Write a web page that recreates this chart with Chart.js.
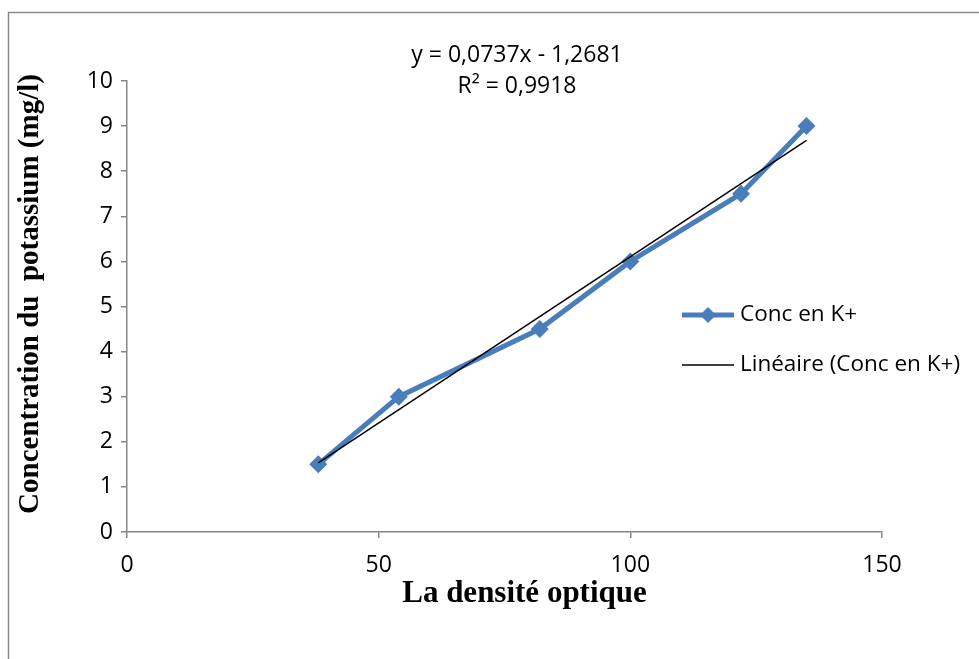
<!DOCTYPE html>
<html>
<head>
<meta charset="utf-8">
<script src="https://cdn.jsdelivr.net/npm/chart.js@4.4.0/dist/chart.umd.min.js"></script>
<style>
  html, body { margin: 0; padding: 0; background: #ffffff; }
  #wrap { width: 979px; height: 659px; position: relative; }
</style>
</head>
<body>
<div id="wrap"><canvas id="c" width="979" height="659"></canvas></div>
<script>
// Optical density readings and potassium concentrations
const densiteOptique = [38, 54, 82, 100, 122, 135];
const concK = [1.5, 3, 4.5, 6, 7.5, 9];

// Linear fit reported on the chart
const penteFit = 0.0737;
const ordonneeFit = -1.2681;
const r2Fit = 0.9918;

const xTicks = [0, 50, 100, 150];
const yTicks = [0, 1, 2, 3, 4, 5, 6, 7, 8, 9, 10];

const serieLabel = 'Conc en K+';
const trendLabel = 'Linéaire (Conc en K+)';
const xTitle = 'La densité optique';
const yTitle = 'Concentration du  potassium (mg/l)';

const BLUE = '#4a7ebb';
const AXIS = '#868686';
const TXT = '#000000';
const SANS = '"Open Sans", Lato, sans-serif';
const SERIF = '"Liberation Serif", "DejaVu Serif", serif';

const points = densiteOptique.map((x, i) => ({ x: x, y: concK[i] }));
const xMin = Math.min(...densiteOptique), xMax = Math.max(...densiteOptique);
const trendPoints = [xMin, xMax].map(x => ({ x: x, y: penteFit * x + ordonneeFit }));

const fmt = v => v.toFixed(4).replace('.', ',');
const eqLine1 = 'y = ' + fmt(penteFit) + 'x - ' + fmt(Math.abs(ordonneeFit));
const eqLine2 = 'R² = ' + fmt(r2Fit);

// Frame, titles, equation and legend drawn around the plot
const decor = {
  id: 'decor',
  afterDraw(chart) {
    const ctx = chart.ctx;
    const area = chart.chartArea;
    ctx.save();

    // outer frame (top and left edges visible)
    ctx.strokeStyle = '#8c8c8c';
    ctx.lineWidth = 1.5;
    ctx.beginPath();
    ctx.moveTo(8.5, 659);
    ctx.lineTo(8.5, 12.5);
    ctx.lineTo(979, 12.5);
    ctx.stroke();

    // fit equation
    ctx.fillStyle = TXT;
    ctx.font = '23px ' + SANS;
    ctx.textAlign = 'center';
    ctx.textBaseline = 'middle';
    ctx.fillText(eqLine1, 517, 55);
    ctx.fillText(eqLine2, 517, 86);

    // axis titles
    ctx.font = 'bold 31px ' + SERIF;
    ctx.fillText(xTitle, (area.left + area.right) / 2 + 20, 594);
    ctx.save();
    ctx.translate(31, 294);
    ctx.rotate(-Math.PI / 2);
    ctx.font = 'bold 29px ' + SERIF;
    ctx.fillText(yTitle, 0, 0);
    ctx.restore();

    // legend
    const lx = 682, lw = 52, tx = 740;
    const y1 = 315, y2 = 365;
    ctx.strokeStyle = BLUE;
    ctx.lineWidth = 5;
    ctx.beginPath();
    ctx.moveTo(lx, y1);
    ctx.lineTo(lx + lw, y1);
    ctx.stroke();
    ctx.fillStyle = BLUE;
    ctx.beginPath();
    const cx = lx + lw / 2, r = 8;
    ctx.moveTo(cx, y1 - r);
    ctx.lineTo(cx + r, y1);
    ctx.lineTo(cx, y1 + r);
    ctx.lineTo(cx - r, y1);
    ctx.closePath();
    ctx.fill();

    ctx.strokeStyle = '#000000';
    ctx.lineWidth = 1.5;
    ctx.beginPath();
    ctx.moveTo(lx, y2);
    ctx.lineTo(lx + lw, y2);
    ctx.stroke();

    ctx.fillStyle = TXT;
    ctx.font = '22.5px ' + SANS;
    ctx.textAlign = 'left';
    ctx.fillText(serieLabel, tx, y1);
    ctx.fillText(trendLabel, tx, y2);
    ctx.restore();
  }
};

new Chart(document.getElementById('c'), {
  type: 'scatter',
  data: {
    datasets: [
      {
        label: trendLabel,
        data: trendPoints,
        showLine: true,
        borderColor: '#000000',
        borderWidth: 1.5,
        pointRadius: 0,
        order: 0
      },
      {
        label: serieLabel,
        data: points,
        showLine: true,
        borderColor: BLUE,
        backgroundColor: BLUE,
        borderWidth: 5,
        pointStyle: 'rectRot',
        pointRadius: 9,
        pointBorderWidth: 0,
        order: 1
      }
    ]
  },
  options: {
    responsive: false,
    animation: false,
    layout: { padding: { left: 0, top: 81, right: 97, bottom: 0 } },
    plugins: { legend: { display: false }, tooltip: { enabled: false } },
    scales: {
      x: {
        type: 'linear',
        min: 0, max: 150,
        afterBuildTicks: s => { s.ticks = xTicks.map(v => ({ value: v })); },
        afterFit: s => { s.height = 127; },
        border: { color: AXIS, width: 1.5 },
        grid: { drawOnChartArea: false, color: AXIS, lineWidth: 1.5, tickLength: 6 },
        ticks: { color: TXT, font: { family: SANS, size: 23 }, padding: 14, maxRotation: 0 }
      },
      y: {
        type: 'linear',
        min: 0, max: 10,
        afterBuildTicks: s => { s.ticks = yTicks.map(v => ({ value: v })); },
        afterFit: s => { s.width = 127; },
        border: { color: AXIS, width: 1.5 },
        grid: { drawOnChartArea: false, color: AXIS, lineWidth: 1.5, tickLength: 6 },
        ticks: { color: TXT, font: { family: SANS, size: 23 }, padding: 8 }
      }
    }
  },
  plugins: [decor]
});
</script>
</body>
</html>
